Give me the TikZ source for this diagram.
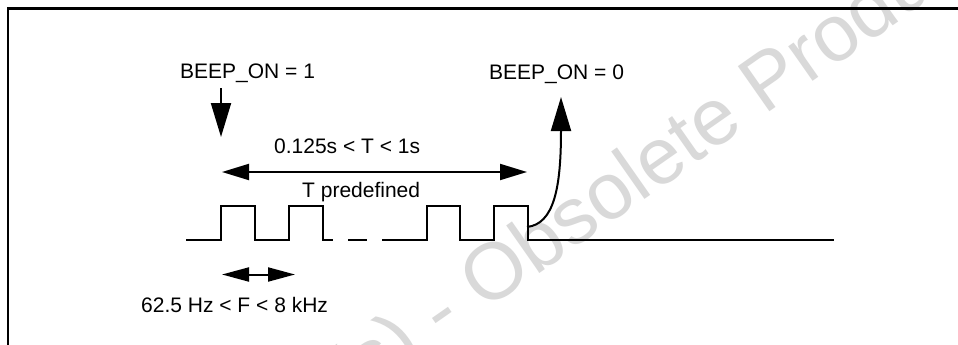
\documentclass[tikz,border=0pt]{standalone}
\usepackage{fontspec}
\setmainfont{Liberation Sans}
\usetikzlibrary{arrows.meta}
\begin{document}
\begin{tikzpicture}[x=1pt,y=-1pt,
  lbl/.style={inner sep=0pt, anchor=base west, font=\fontsize{21}{25}\selectfont},
  wave/.style={line width=2.3pt, line cap=butt, line join=miter},
  bigarrow/.style={line width=2pt, -{Triangle[length=34pt,width=20pt]}},
  spanarrow/.style={line width=2pt, {Triangle[length=27pt,width=16pt]}-{Triangle[length=27pt,width=16pt]}},
  freqarrow/.style={line width=2pt, {Triangle[length=27pt,width=14pt]}-{Triangle[length=27pt,width=14pt]}},
  frameline/.style={line width=2.7pt},
  wm/.style={inner sep=0pt, rotate=35, text=black!15, font=\fontsize{80}{90}\selectfont}
]
\useasboundingbox (0,0) rectangle (958,345);
\clip (0,0) rectangle (958,345);
\fill[white] (0,0) rectangle (958,345);

% watermark
\coordinate (wmO) at (484,312);
\node[wm, anchor=base west] (wm2) at (wmO) {Obsolete Product(s)};
\node[wm, anchor=base east] (wm1) at (wmO) {Obsolete Product(s) -\kern0.278em};

% frame
\draw[frameline] (8,350) -- (8,8.5) -- (962,8.5);

% labels
\node[lbl] (on1) at (180,78) {BEEP\_ON = 1};
\node[lbl] (on0) at (489,80) {BEEP\_ON = 0};
\node[lbl] (tlim) at (274,153) {0.125s < T < 1s};
\node[lbl] (tpre) at (302,197) {T predefined};
\node[lbl] (flim) at (141,312) {62.5 Hz < F < 8 kHz};

% BEEP_ON = 1 arrow
\coordinate (d1) at (221,88);
\coordinate (d2) at (221,137);
\draw[bigarrow] (d1) -- (d2);

% T span arrow
\coordinate (tL) at (222,172);
\coordinate (tR) at (527,172);
\draw[spanarrow] (tL) -- (tR);

% frequency arrow
\coordinate (fL) at (222,274.5);
\coordinate (fR) at (295,274.5);
\draw[freqarrow] (fL) -- (fR);

% waveform
\draw[wave] (186,240) -- (221,240) -- (221,206) -- (255,206) -- (255,240)
  -- (289,240) -- (289,206) -- (323,206) -- (323,240) -- (333,240);
\draw[wave] (348,240) -- (367,240);
\draw[wave] (382,240) -- (427,240) -- (427,206) -- (460,206) -- (460,240)
  -- (494,240) -- (494,206) -- (528,206) -- (528,240) -- (834,240);

% BEEP_ON = 0 curved arrow
\coordinate (c0) at (527,227);
\coordinate (c1) at (561,97);
\draw[bigarrow] (c0) .. controls (554,224) and (561,188) .. (c1);
\end{tikzpicture}
\end{document}
